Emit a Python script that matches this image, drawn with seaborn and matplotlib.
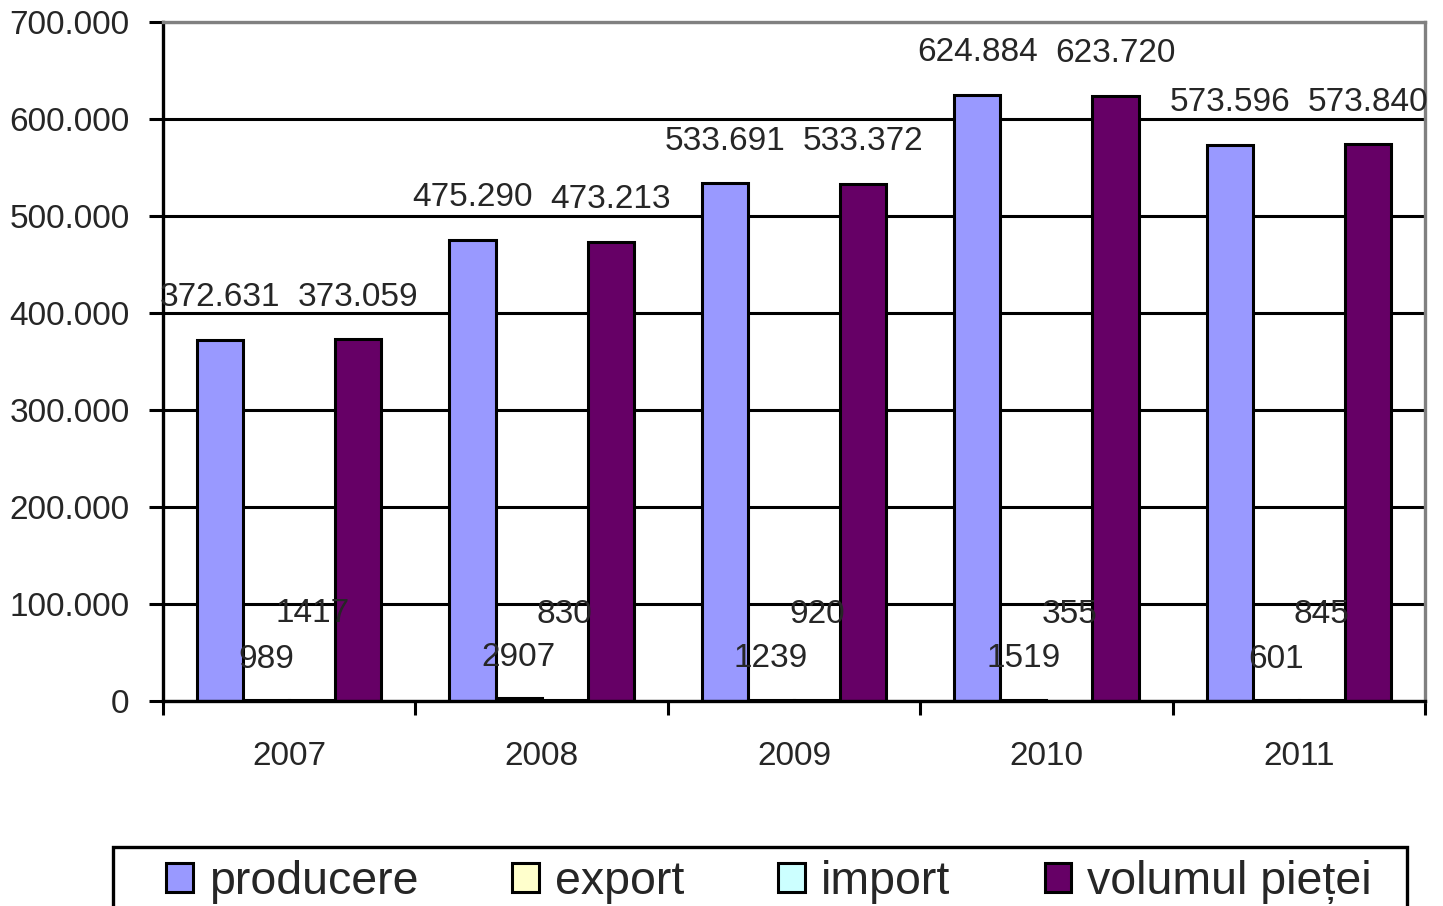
import matplotlib
matplotlib.use("Agg")
import matplotlib.pyplot as plt
from matplotlib.patches import Patch, Rectangle
import seaborn as sns
import pandas as pd

years = ["2007", "2008", "2009", "2010", "2011"]
series = ["producere", "export", "import", "volumul pieței"]
producere = [372631, 475290, 533691, 624884, 573596]
export = [989, 2907, 1239, 1519, 601]
import_ = [1417, 830, 920, 355, 845]
volumul = [373059, 473213, 533372, 623720, 573840]
colors = ["#9999FF", "#FFFFCC", "#CCFFFF", "#660066"]
yticks = [0, 100000, 200000, 300000, 400000, 500000, 600000, 700000]

values = [producere, export, import_, volumul]
rows = []
for s, vals in zip(series, values):
    for y, v in zip(years, vals):
        rows.append({"an": y, "serie": s, "valoare": v})
df = pd.DataFrame(rows)


def fmt(v):
    v = int(round(v))
    if v >= 10000:
        return f"{v:,}".replace(",", ".")
    return str(v)


sns.set_style("white")
plt.rcParams["font.family"] = ["Liberation Sans", "DejaVu Sans"]

W, H = 1443, 906
FS = 24
fig = plt.figure(figsize=(W / 100, H / 100), dpi=100)
ax = fig.add_axes([163 / W, 1 - 701 / H, (1425 - 163) / W, (701 - 22) / H])

sns.barplot(data=df, x="an", y="valoare", hue="serie", hue_order=series,
            palette=colors, width=0.73, edgecolor="black", linewidth=2.2,
            errorbar=None, legend=False, ax=ax, saturation=1)

ax.set_ylim(0, 700000)
ax.set_xlim(-0.5, 4.5)
ax.set_yticks(yticks)
ax.set_yticklabels(["0" if t == 0 else fmt(t) for t in yticks])
ax.set_xlabel("")
ax.set_ylabel("")
ax.set_axisbelow(True)
ax.yaxis.grid(True, color="black", linewidth=2.2)
ax.xaxis.grid(False)

ax.tick_params(axis="y", which="major", length=10, width=2.2, direction="out",
               labelsize=FS, pad=14, color="black", left=True)
ax.tick_params(axis="x", which="major", length=0, labelsize=FS, pad=29)
ax.set_xticks([-0.5, 0.5, 1.5, 2.5, 3.5, 4.5], minor=True)
ax.tick_params(axis="x", which="minor", length=10, width=2.2, direction="out",
               color="black", bottom=True)

for side in ["left", "bottom"]:
    ax.spines[side].set_color("black")
    ax.spines[side].set_linewidth(2.4)
for side in ["top", "right"]:
    ax.spines[side].set_color("#808080")
    ax.spines[side].set_linewidth(2.4)

offsets = [42, 41, 86, 42]
for cont, off in zip(ax.containers, offsets):
    for bar in cont:
        h = bar.get_height()
        x = bar.get_x() + bar.get_width() / 2
        ax.annotate(fmt(h), (x, h), xytext=(0, off),
                    textcoords="offset pixels", ha="center", va="center",
                    fontsize=FS, annotation_clip=False)

handles = [Patch(facecolor=c, edgecolor="black", linewidth=2.2) for c in colors]
leg = fig.legend(handles, series, loc="center left", ncol=4, mode="expand",
                 bbox_to_anchor=(166 / W, 1 - 882 / H, 1206 / W, 0),
                 bbox_transform=fig.transFigure, fontsize=33.5, frameon=False,
                 handlelength=0.57, handleheight=0.57, handletextpad=0.35,
                 borderaxespad=0, borderpad=0, columnspacing=1.0)
fig.add_artist(Rectangle((113 / W, 1 - 915 / H), (1407 - 113) / W, (915 - 847) / H,
                         transform=fig.transFigure, fill=False,
                         edgecolor="black", linewidth=2.4, clip_on=False))

fig.savefig("out.png", dpi=100, facecolor="white")
